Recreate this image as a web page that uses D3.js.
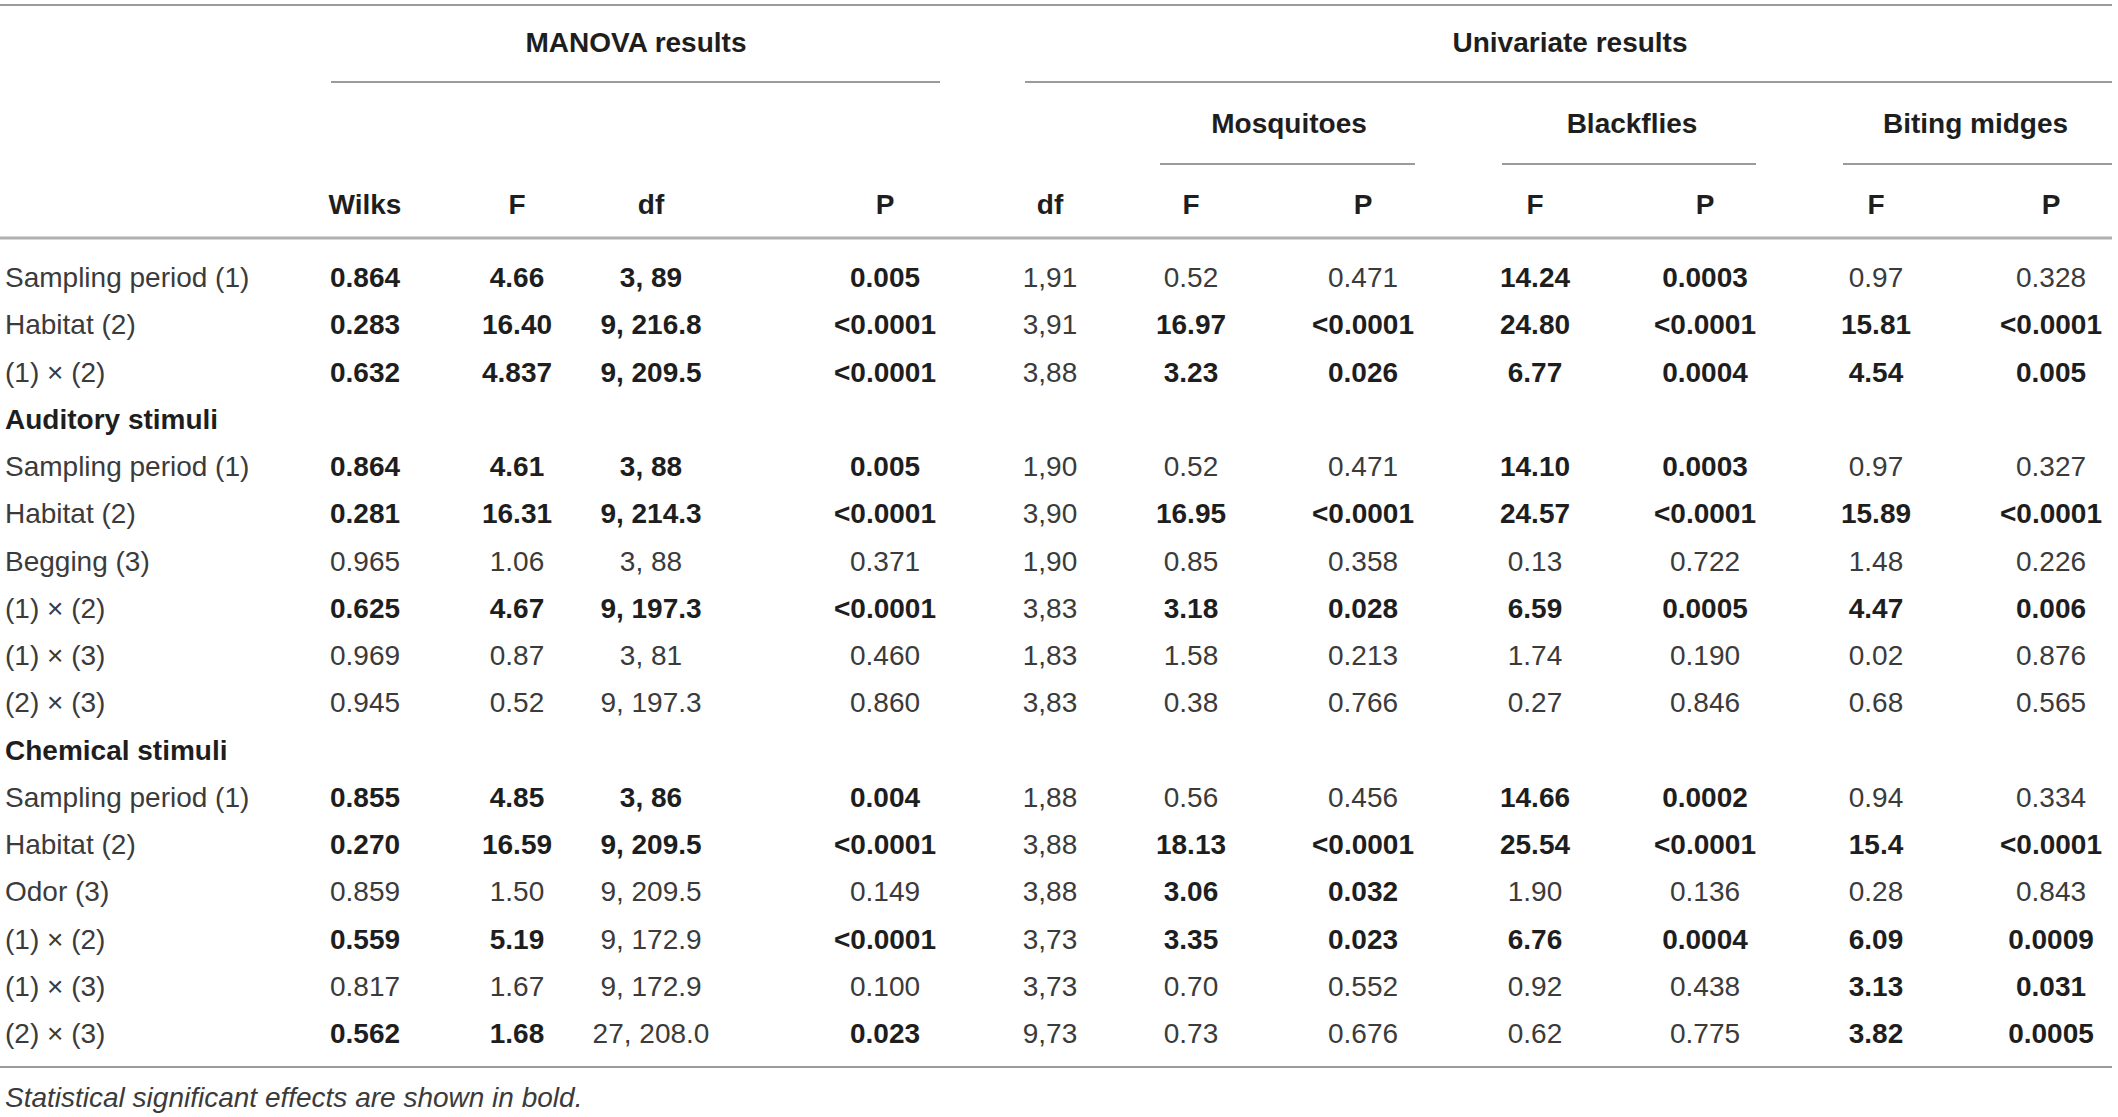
<!DOCTYPE html>
<html>
<head>
<meta charset="utf-8">
<script src="https://cdn.jsdelivr.net/npm/d3@7"></script>
<style>
  html, body { margin: 0; padding: 0; background: #fff; }
  svg { display: block; font-family: "Liberation Sans", Arial, sans-serif; }
</style>
</head>
<body>
<svg></svg>
<script>
var width = 2118;
var height = 1117;

// ..... data .....................................................................//

// one entry per table line; section titles have null values
var rowLabels = [
    "Sampling period (1)", "Habitat (2)", "(1) \u00d7 (2)",
    "Auditory stimuli",
    "Sampling period (1)", "Habitat (2)", "Begging (3)", "(1) \u00d7 (2)", "(1) \u00d7 (3)", "(2) \u00d7 (3)",
    "Chemical stimuli",
    "Sampling period (1)", "Habitat (2)", "Odor (3)", "(1) \u00d7 (2)", "(1) \u00d7 (3)", "(2) \u00d7 (3)"
];
var sectionRows = [3, 10];

var wilks    = ["0.864", "0.283", "0.632", null, "0.864", "0.281", "0.965", "0.625", "0.969", "0.945", null, "0.855", "0.270", "0.859", "0.559", "0.817", "0.562"];
var manovaF  = ["4.66", "16.40", "4.837", null, "4.61", "16.31", "1.06", "4.67", "0.87", "0.52", null, "4.85", "16.59", "1.50", "5.19", "1.67", "1.68"];
var manovaDf = ["3, 89", "9, 216.8", "9, 209.5", null, "3, 88", "9, 214.3", "3, 88", "9, 197.3", "3, 81", "9, 197.3", null, "3, 86", "9, 209.5", "9, 209.5", "9, 172.9", "9, 172.9", "27, 208.0"];
var manovaDfBold = [1, 1, 1, 0, 1, 1, 0, 1, 0, 0, 0, 1, 1, 0, 0, 0, 0];
var manovaP  = ["0.005", "<0.0001", "<0.0001", null, "0.005", "<0.0001", "0.371", "<0.0001", "0.460", "0.860", null, "0.004", "<0.0001", "0.149", "<0.0001", "0.100", "0.023"];

var uniDf    = ["1,91", "3,91", "3,88", null, "1,90", "3,90", "1,90", "3,83", "1,83", "3,83", null, "1,88", "3,88", "3,88", "3,73", "3,73", "9,73"];
var mosqF    = ["0.52", "16.97", "3.23", null, "0.52", "16.95", "0.85", "3.18", "1.58", "0.38", null, "0.56", "18.13", "3.06", "3.35", "0.70", "0.73"];
var mosqP    = ["0.471", "<0.0001", "0.026", null, "0.471", "<0.0001", "0.358", "0.028", "0.213", "0.766", null, "0.456", "<0.0001", "0.032", "0.023", "0.552", "0.676"];
var blackF   = ["14.24", "24.80", "6.77", null, "14.10", "24.57", "0.13", "6.59", "1.74", "0.27", null, "14.66", "25.54", "1.90", "6.76", "0.92", "0.62"];
var blackP   = ["0.0003", "<0.0001", "0.0004", null, "0.0003", "<0.0001", "0.722", "0.0005", "0.190", "0.846", null, "0.0002", "<0.0001", "0.136", "0.0004", "0.438", "0.775"];
var midgeF   = ["0.97", "15.81", "4.54", null, "0.97", "15.89", "1.48", "4.47", "0.02", "0.68", null, "0.94", "15.4", "0.28", "6.09", "3.13", "3.82"];
var midgeP   = ["0.328", "<0.0001", "0.005", null, "0.327", "<0.0001", "0.226", "0.006", "0.876", "0.565", null, "0.334", "<0.0001", "0.843", "0.0009", "0.031", "0.0005"];

var colHeaders = ["Wilks", "F", "df", "P", "df", "F", "P", "F", "P", "F", "P"];
var groupTitles = ["MANOVA results", "Univariate results"];
var taxa = ["Mosquitoes", "Blackflies", "Biting midges"];
var footnote = "Statistical significant effects are shown in bold.";

// ..................................................................................//

var sig = function (p) {
    return p !== null && (p.charAt(0) === "<" || +p < 0.05);
};

// columns: values + rule deciding bold
var columns = [
    { v: wilks,    bold: function (i) { return sig(manovaP[i]); } },
    { v: manovaF,  bold: function (i) { return sig(manovaP[i]); } },
    { v: manovaDf, bold: function (i) { return manovaDfBold[i] === 1; } },
    { v: manovaP,  bold: function (i) { return sig(manovaP[i]); } },
    { v: uniDf,    bold: function () { return false; } },
    { v: mosqF,    bold: function (i) { return sig(mosqP[i]); } },
    { v: mosqP,    bold: function (i) { return sig(mosqP[i]); } },
    { v: blackF,   bold: function (i) { return sig(blackP[i]); } },
    { v: blackP,   bold: function (i) { return sig(blackP[i]); } },
    { v: midgeF,   bold: function (i) { return sig(midgeP[i]); } },
    { v: midgeP,   bold: function (i) { return sig(midgeP[i]); } }
];

var svg = d3.select('svg')
    .attr('width', width)
    .attr('height', height);

// column centres (layout)
var x = d3.scaleOrdinal()
    .domain(d3.range(colHeaders.length))
    .range([365, 517, 651, 885, 1050, 1191, 1363, 1535, 1705, 1876, 2051]);

var y = d3.scalePoint()
    .domain(d3.range(rowLabels.length))
    .range([277, 1033]);

var fontSize = 28;
var normalColor = "#3b3b3b";
var boldColor = "#1e1e1e";
var ruleColor = "#9b9b9b";

var rule = function (x1, x2, yy, w, c) {
    svg.append('line')
        .attr('x1', x1).attr('x2', x2)
        .attr('y1', yy).attr('y2', yy)
        .attr('stroke', c || ruleColor)
        .attr('stroke-width', w || 2);
};

var text = function (str, xx, yy, bold, anchor) {
    return svg.append('text')
        .attr('x', xx)
        .attr('y', yy)
        .attr('dy', '0.36em')
        .attr('text-anchor', anchor || 'middle')
        .attr('font-size', fontSize)
        .attr('font-weight', bold ? 'bold' : 'normal')
        .attr('fill', bold ? boldColor : normalColor)
        .text(str);
};

// ..... header .....................................................................//

rule(0, 2112, 5, 2);
text(groupTitles[0], 636, 42, true);
text(groupTitles[1], 1570, 42, true);
rule(331, 940, 82, 2);
rule(1025, 2112, 82, 2);

var taxaCols = [[5, 6], [7, 8], [9, 10]];
var taxaSpan = [[1160, 1415], [1502, 1756], [1843, 2112]];
taxa.forEach(function (t, k) {
    text(t, (x(taxaCols[k][0]) + x(taxaCols[k][1])) / 2 + 12, 123, true);
    rule(taxaSpan[k][0], taxaSpan[k][1], 164, 2);
});

colHeaders.forEach(function (h, c) {
    text(h, x(c), 204, true);
});

rule(0, 2112, 238, 3, "#b0b0b0");

// ..... body .......................................................................//

var rows = svg.append('g');

rows.selectAll('text.label')
    .data(rowLabels)
    .enter()
    .append('text')
    .attr('class', 'label')
    .attr('x', 5)
    .attr('y', function (d, i) { return y(i); })
    .attr('dy', '0.36em')
    .attr('font-size', fontSize)
    .attr('font-weight', function (d, i) { return sectionRows.indexOf(i) >= 0 ? 'bold' : 'normal'; })
    .attr('fill', function (d, i) { return sectionRows.indexOf(i) >= 0 ? boldColor : normalColor; })
    .text(function (d) { return d; });

columns.forEach(function (col, c) {
    rows.selectAll('text.c' + c)
        .data(col.v.map(function (v, i) { return { v: v, i: i }; }).filter(function (d) { return d.v !== null; }))
        .enter()
        .append('text')
        .attr('class', 'c' + c)
        .attr('x', x(c))
        .attr('y', function (d) { return y(d.i); })
        .attr('dy', '0.36em')
        .attr('text-anchor', 'middle')
        .attr('font-size', fontSize)
        .attr('font-weight', function (d) { return col.bold(d.i) ? 'bold' : 'normal'; })
        .attr('fill', function (d) { return col.bold(d.i) ? boldColor : normalColor; })
        .text(function (d) { return d.v; });
});

rule(0, 2112, 1067, 2);

text(footnote, 5, 1097, false, 'start')
    .attr('font-style', 'italic');
</script>
</body>
</html>
